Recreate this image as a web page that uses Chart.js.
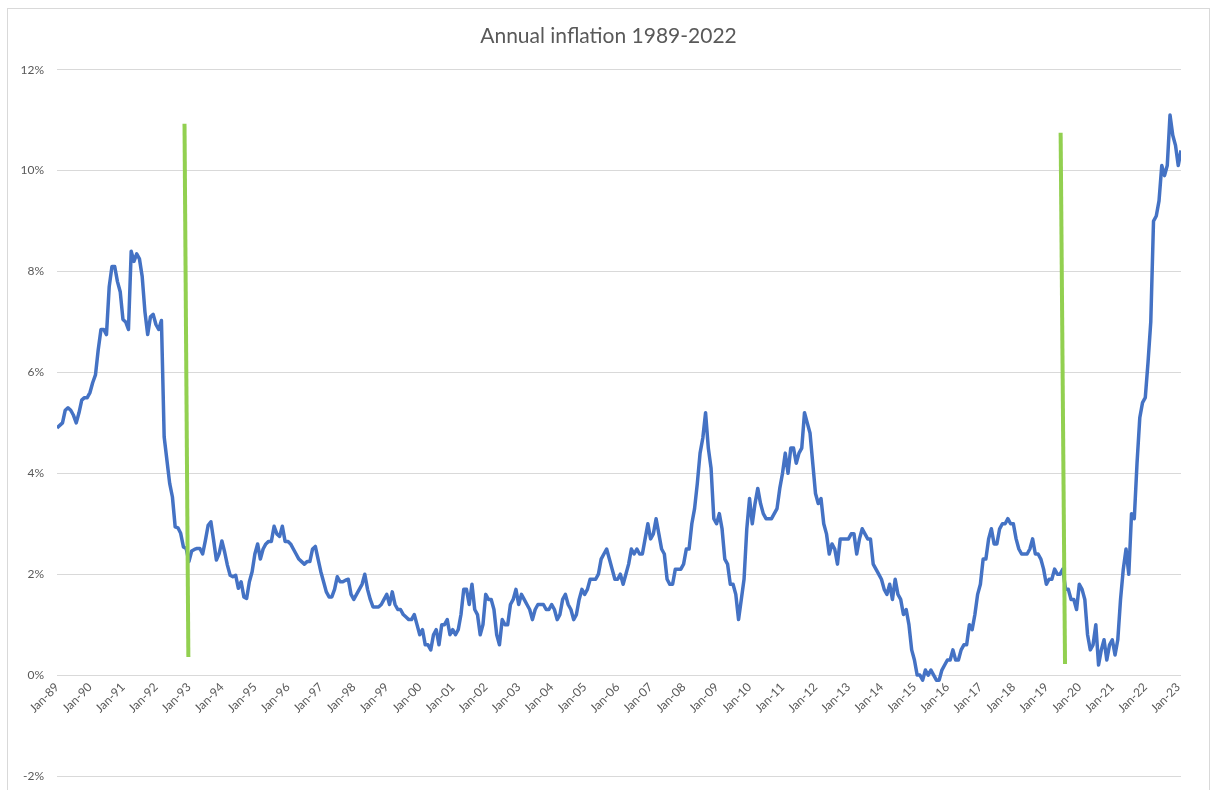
<!DOCTYPE html>
<html>
<head>
<meta charset="utf-8">
<title>Annual inflation 1989-2022</title>
<script src="https://cdn.jsdelivr.net/npm/chart.js@4.4.0/dist/chart.umd.min.js"></script>
<style>
  html, body { margin: 0; padding: 0; background: #fff; }
  #wrap { width: 1217px; height: 790px; }
</style>
</head>
<body>
<div id="wrap"><canvas id="inflationChart" width="1217" height="790"></canvas></div>
<script>
// x-axis labels, one every 12 months
const tickLabels = ['Jan-89', 'Jan-90', 'Jan-91', 'Jan-92', 'Jan-93', 'Jan-94', 'Jan-95', 'Jan-96',
  'Jan-97', 'Jan-98', 'Jan-99', 'Jan-00', 'Jan-01', 'Jan-02', 'Jan-03', 'Jan-04', 'Jan-05',
  'Jan-06', 'Jan-07', 'Jan-08', 'Jan-09', 'Jan-10', 'Jan-11', 'Jan-12', 'Jan-13', 'Jan-14',
  'Jan-15', 'Jan-16', 'Jan-17', 'Jan-18', 'Jan-19', 'Jan-20', 'Jan-21', 'Jan-22', 'Jan-23'];

// monthly annual inflation (%), Jan-89 .. Feb-23, one row per year
const inflation = [
  4.9, 4.95, 5.0, 5.25, 5.3, 5.25, 5.15, 5.0, 5.2, 5.45, 5.5, 5.5,       // 1989
  5.6, 5.8, 5.95, 6.45, 6.85, 6.85, 6.75, 7.7, 8.1, 8.1, 7.8, 7.6,       // 1990
  7.05, 7.0, 6.85, 8.4, 8.2, 8.35, 8.25, 7.9, 7.2, 6.75, 7.1, 7.15,      // 1991
  6.95, 6.85, 7.03, 4.72, 4.26, 3.8, 3.53, 2.94, 2.92, 2.81, 2.54, 2.51, // 1992
  2.25, 2.46, 2.49, 2.51, 2.51, 2.4, 2.67, 2.97, 3.04, 2.67, 2.28, 2.41, // 1993
  2.66, 2.44, 2.18, 1.98, 1.95, 1.98, 1.72, 1.85, 1.55, 1.52, 1.85, 2.05, // 1994
  2.4, 2.6, 2.3, 2.5, 2.6, 2.65, 2.65, 2.95, 2.8, 2.75, 2.95, 2.65,      // 1995
  2.65, 2.6, 2.5, 2.4, 2.3, 2.25, 2.2, 2.25, 2.25, 2.5, 2.55, 2.3,       // 1996
  2.05, 1.85, 1.65, 1.55, 1.55, 1.7, 1.95, 1.85, 1.85, 1.88, 1.9, 1.6,   // 1997
  1.5, 1.6, 1.7, 1.8, 2.0, 1.7, 1.5, 1.35, 1.35, 1.35, 1.4, 1.5,        // 1998
  1.6, 1.4, 1.65, 1.4, 1.3, 1.3, 1.2, 1.15, 1.1, 1.1, 1.2, 1.0,         // 1999
  0.8, 0.9, 0.6, 0.6, 0.5, 0.8, 0.9, 0.6, 1.0, 1.0, 1.1, 0.8,           // 2000
  0.9, 0.8, 0.9, 1.2, 1.7, 1.7, 1.4, 1.8, 1.3, 1.2, 0.8, 1.0,           // 2001
  1.6, 1.5, 1.5, 1.3, 0.8, 0.6, 1.1, 1.0, 1.0, 1.4, 1.5, 1.7,           // 2002
  1.4, 1.6, 1.5, 1.4, 1.3, 1.1, 1.3, 1.4, 1.4, 1.4, 1.3, 1.3,           // 2003
  1.4, 1.3, 1.1, 1.2, 1.5, 1.6, 1.4, 1.3, 1.1, 1.2, 1.5, 1.7,           // 2004
  1.6, 1.7, 1.9, 1.9, 1.9, 2.0, 2.3, 2.4, 2.5, 2.3, 2.1, 1.9,           // 2005
  1.9, 2.0, 1.8, 2.0, 2.2, 2.5, 2.4, 2.5, 2.4, 2.4, 2.7, 3.0,           // 2006
  2.7, 2.8, 3.1, 2.8, 2.5, 2.4, 1.9, 1.8, 1.8, 2.1, 2.1, 2.1,           // 2007
  2.2, 2.5, 2.5, 3.0, 3.3, 3.8, 4.4, 4.7, 5.2, 4.5, 4.1, 3.1,           // 2008
  3.0, 3.2, 2.9, 2.3, 2.2, 1.8, 1.8, 1.6, 1.1, 1.5, 1.9, 2.9,           // 2009
  3.5, 3.0, 3.4, 3.7, 3.4, 3.2, 3.1, 3.1, 3.1, 3.2, 3.3, 3.7,           // 2010
  4.0, 4.4, 4.0, 4.5, 4.5, 4.2, 4.4, 4.5, 5.2, 5.0, 4.8, 4.2,           // 2011
  3.6, 3.4, 3.5, 3.0, 2.8, 2.4, 2.6, 2.5, 2.2, 2.7, 2.7, 2.7,           // 2012
  2.7, 2.8, 2.8, 2.4, 2.7, 2.9, 2.8, 2.7, 2.7, 2.2, 2.1, 2.0,           // 2013
  1.9, 1.7, 1.6, 1.8, 1.5, 1.9, 1.6, 1.5, 1.2, 1.3, 1.0, 0.5,           // 2014
  0.3, 0.0, 0.0, -0.1, 0.1, 0.0, 0.1, 0.0, -0.1, -0.1, 0.1, 0.2,        // 2015
  0.3, 0.3, 0.5, 0.3, 0.3, 0.5, 0.6, 0.6, 1.0, 0.9, 1.2, 1.6,           // 2016
  1.8, 2.3, 2.3, 2.7, 2.9, 2.6, 2.6, 2.9, 3.0, 3.0, 3.1, 3.0,           // 2017
  3.0, 2.7, 2.5, 2.4, 2.4, 2.4, 2.5, 2.7, 2.4, 2.4, 2.3, 2.1,           // 2018
  1.8, 1.9, 1.9, 2.1, 2.0, 2.0, 2.1, 1.7, 1.7, 1.5, 1.5, 1.3,           // 2019
  1.8, 1.7, 1.5, 0.8, 0.5, 0.6, 1.0, 0.2, 0.5, 0.7, 0.3, 0.6,           // 2020
  0.7, 0.4, 0.7, 1.5, 2.1, 2.5, 2.0, 3.2, 3.1, 4.2, 5.1, 5.4,           // 2021
  5.5, 6.2, 7.0, 9.0, 9.1, 9.4, 10.1, 9.9, 10.1, 11.1, 10.7, 10.5,      // 2022
  10.1, 10.4                                                             // 2023
];

// the two green marker strokes (month index from Jan-89, %)
const markerEarly = [{x: 46.4, y: 10.93}, {x: 47.8, y: 0.36}];
const markerLate = [{x: 365.2, y: 10.75}, {x: 366.8, y: 0.22}];

const textColor = '#595959';
Chart.defaults.font.family = 'Lato, "Liberation Sans", sans-serif';
Chart.defaults.color = textColor;

// light grey frame round the whole chart, like the Excel chart area
const frame = {
  id: 'frame',
  beforeDraw(chart) {
    const c = chart.ctx;
    c.save();
    c.fillStyle = '#ffffff';
    c.fillRect(0, 0, chart.width, chart.height);
    c.strokeStyle = '#d9d9d9';
    c.lineWidth = 1;
    c.strokeRect(7.5, 8.5, 1202, 800);
    c.restore();
  }
};

const ctx = document.getElementById('inflationChart').getContext('2d');
const inflationChart = new Chart(ctx, {
  type: 'line',
  data: {
    datasets: [
      {
        label: 'Annual inflation',
        data: inflation.map((v, i) => ({x: i, y: v})),
        borderColor: '#4472c4',
        borderWidth: 3.5,
        pointRadius: 0,
        tension: 0,
        borderJoinStyle: 'round',
        order: 2
      },
      {
        label: 'marker 1',
        data: markerEarly,
        borderColor: '#92d050',
        borderWidth: 4,
        pointRadius: 0,
        borderCapStyle: 'butt',
        order: 1
      },
      {
        label: 'marker 2',
        data: markerLate,
        borderColor: '#92d050',
        borderWidth: 4,
        pointRadius: 0,
        borderCapStyle: 'butt',
        order: 1
      }
    ]
  },
  options: {
    responsive: false,
    animation: false,
    layout: {
      padding: {left: 8, right: 8, top: 0, bottom: 14}
    },
    scales: {
      x: {
        type: 'linear',
        position: {y: 0},
        min: 0,
        max: inflation.length - 1,
        afterBuildTicks: (axis) => {
          axis.ticks = tickLabels.map((_, k) => ({value: k * 12}));
        },
        ticks: {
          autoSkip: false,
          minRotation: 45,
          maxRotation: 45,
          padding: 5,
          font: {size: 12},
          callback: (value, index) => tickLabels[index]
        },
        grid: {display: false, drawTicks: false},
        border: {display: false}
      },
      y: {
        min: -2,
        max: 12,
        afterFit: (axis) => {
          axis.width = 49;
          axis.paddingTop = 0;
          axis.paddingBottom = 0;
        },
        ticks: {
          stepSize: 2,
          padding: 13,
          font: {size: 12},
          callback: (value) => value + '%'
        },
        grid: {color: '#d9d9d9', lineWidth: 1, drawTicks: false},
        border: {display: false}
      },
      // empty right-hand spacer so the plot ends where the reference does
      spacer: {
        type: 'linear',
        position: 'right',
        min: 0,
        max: 1,
        afterFit: (axis) => {
          axis.width = 28;
          axis.paddingTop = 0;
          axis.paddingBottom = 0;
        },
        ticks: {display: false},
        grid: {display: false, drawTicks: false},
        border: {display: false}
      }
    },
    plugins: {
      legend: {display: false},
      tooltip: {enabled: false},
      title: {
        display: true,
        text: 'Annual inflation 1989-2022',
        color: textColor,
        font: {size: 21, weight: 'normal'},
        padding: {top: 24, bottom: 20.5}
      }
    }
  },
  plugins: [frame]
});
</script>
</body>
</html>
